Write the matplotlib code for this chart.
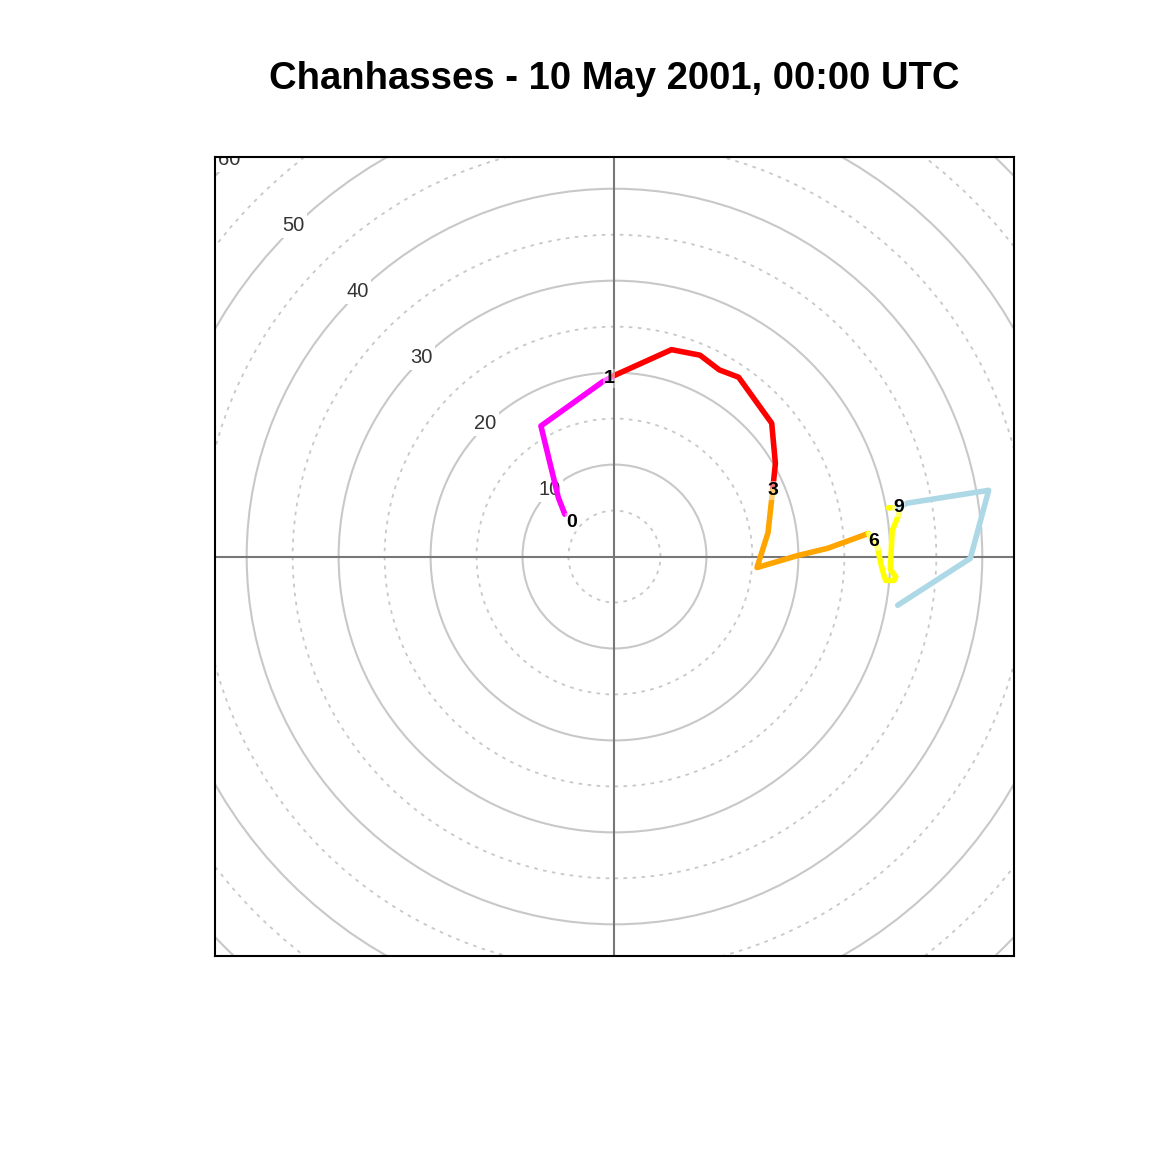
import matplotlib
matplotlib.use("Agg")
import matplotlib.pyplot as plt
from matplotlib.patches import Circle
import numpy as np

# hodograph segments (u, v) in knots, split by height layer
u_0_1 = [-5.4, -6.1, -8.0, -1.3, 0.0]
v_0_1 = [4.6, 6.4, 14.2, 19.0, 19.7]
u_1_3 = [0.0, 6.2, 9.3, 11.4, 13.5, 17.1, 17.5, 17.2]
v_1_3 = [19.7, 22.5, 21.9, 20.3, 19.5, 14.5, 10.1, 7.2]
u_3_6 = [17.2, 16.7, 15.5, 19.9, 23.2, 27.6]
v_3_6 = [7.2, 2.6, -1.2, 0.1, 0.9, 2.5]
u_6_9 = [27.6, 28.6, 29.0, 29.3, 29.5, 30.4, 30.6, 30.0, 30.2, 30.9, 31.1, 30.9, 29.8]
v_6_9 = [2.5, 1.0, -0.9, -2.0, -2.6, -2.6, -2.2, -1.4, 2.8, 4.5, 5.3, 5.3, 5.3]
u_9_up = [30.9, 31.8, 40.7, 38.7, 30.8]
v_9_up = [5.3, 5.8, 7.2, -0.2, -5.3]

segments = [(u_0_1, v_0_1, "magenta"), (u_1_3, v_1_3, "red"),
            (u_3_6, v_3_6, "orange"), (u_6_9, v_6_9, "yellow"),
            (u_9_up, v_9_up, "lightblue")]

km_labels = ["0", "1", "3", "6", "9"]
km_u = [-4.7, -0.6, 17.2, 28.2, 30.9]
km_v = [3.7, 19.4, 7.2, 1.6, 5.3]

ring_solid = [10, 20, 30, 40, 50, 60]
ring_dotted = [5, 15, 25, 35, 45, 55, 65]

fig = plt.figure(figsize=(11.52, 11.52), dpi=100)
ax = fig.add_axes([0.1866, 0.1701, 0.6936, 0.6936])
lim = 43.45
ax.set_xlim(-lim, lim)
ax.set_ylim(-lim, lim)
ax.set_aspect("equal")
ax.set_xticks([])
ax.set_yticks([])
for s in ax.spines.values():
    s.set_linewidth(1.5)

for r in ring_dotted:
    ax.add_patch(Circle((0, 0), r, fill=False, ec="#c8c8c8", lw=1.3,
                        ls=(0, (2, 3)), zorder=1))
for r in ring_solid:
    ax.add_patch(Circle((0, 0), r, fill=False, ec="#c8c8c8", lw=1.5, zorder=1))
    a = np.deg2rad(134.1)
    ax.text((r + 0.2) * np.cos(a), (r + 0.2) * np.sin(a), str(r),
            ha="center", va="center", fontsize=14.5, color="#333333",
            family="Liberation Sans", zorder=2, clip_on=True,
            bbox=dict(boxstyle="square,pad=0.15", fc="white", ec="none"))

ax.axhline(0, color="#777777", lw=1.5, zorder=1.5)
ax.axvline(0, color="#777777", lw=1.5, zorder=1.5)

for u, v, c in segments:
    ax.plot(u, v, color=c, lw=4.0, solid_joinstyle="round",
            solid_capstyle="round", zorder=3)

for lab, x, y in zip(km_labels, km_u, km_v):
    ax.text(x, y, lab, ha="center", va="center", fontsize=14,
            fontweight="bold", family="Liberation Sans", color="black",
            zorder=4,
            bbox=dict(boxstyle="square,pad=0.05", fc="white", ec="none",
                      alpha=0.45))

fig.text(0.533, 0.931, "Chanhasses - 10 May 2001, 00:00 UTC", ha="center",
         va="center", fontsize=27.5, fontweight="bold",
         family=["Liberation Sans Narrow", "Liberation Sans"])

fig.savefig("out.png", dpi=100, facecolor="white")
